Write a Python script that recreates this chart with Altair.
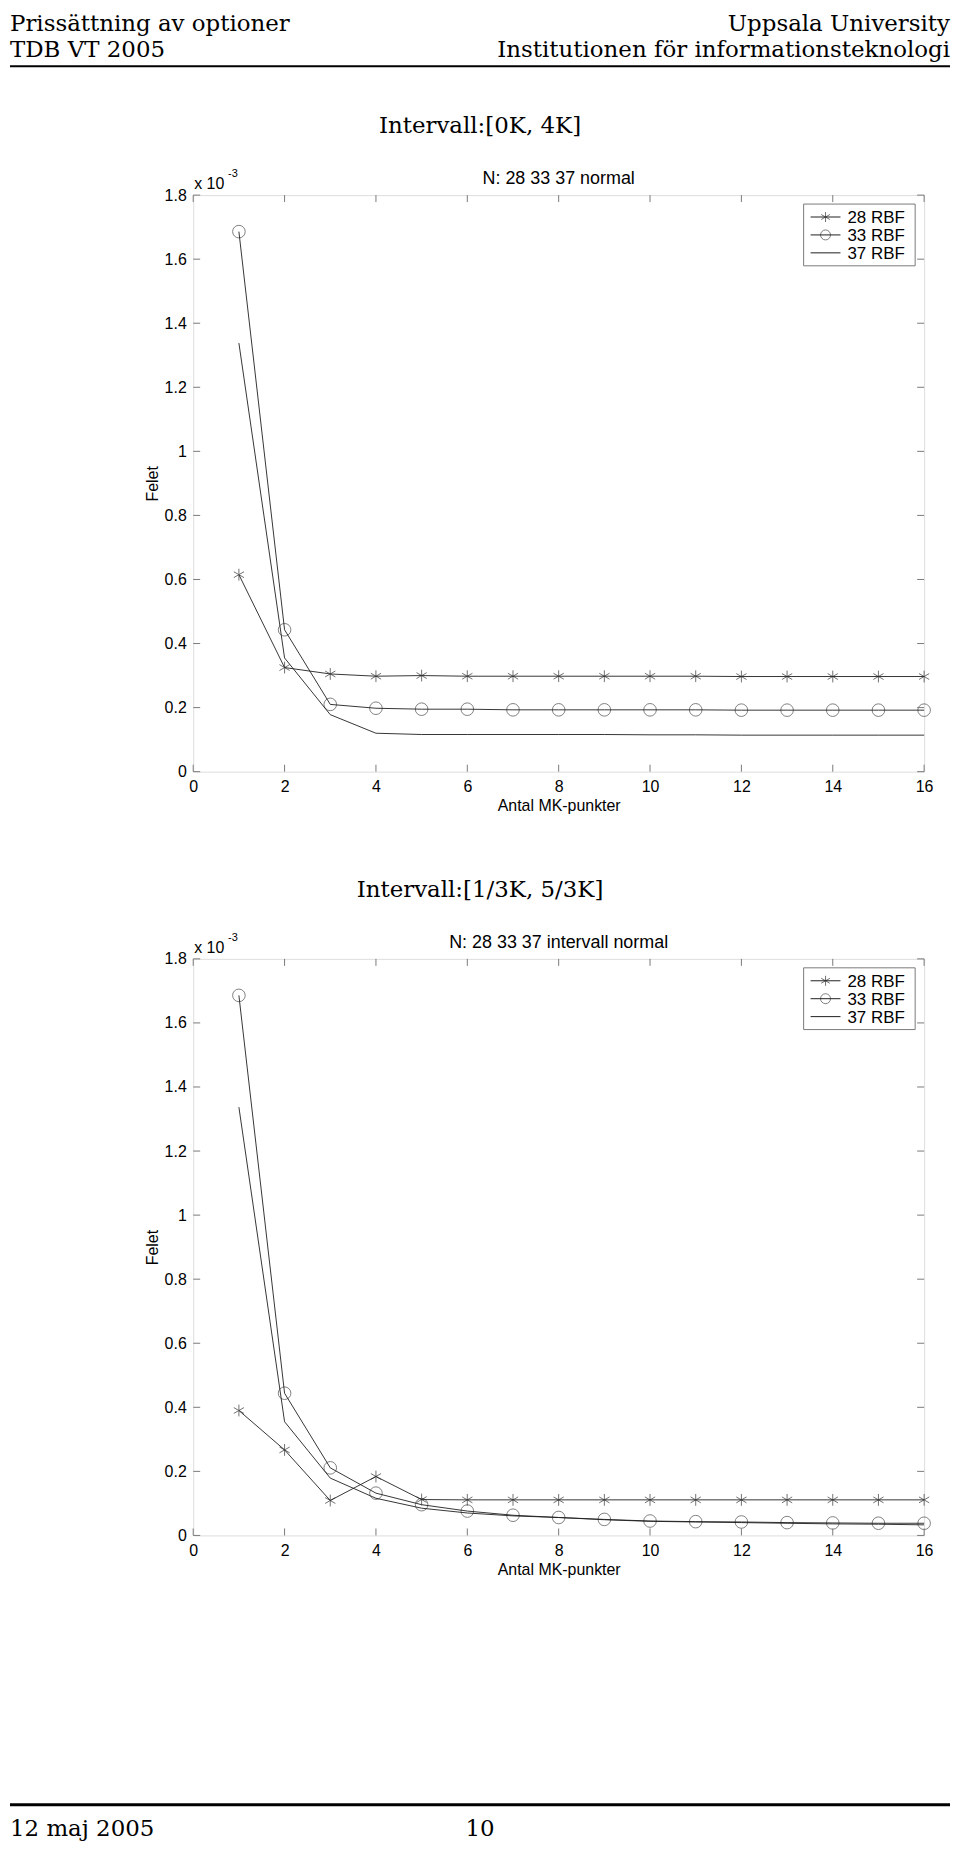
import altair as alt
import pandas as pd

# ---------------- data (values in units of 10^-3) ----------------
x_points = list(range(1, 17))
series_names = ["28 RBF", "33 RBF", "37 RBF"]

p1_28 = [0.615, 0.325, 0.305, 0.298, 0.300, 0.298, 0.298, 0.298, 0.298, 0.298, 0.298, 0.297, 0.297, 0.297, 0.297, 0.297]
p1_33 = [1.686, 0.443, 0.210, 0.198, 0.195, 0.195, 0.193, 0.193, 0.193, 0.193, 0.193, 0.192, 0.192, 0.192, 0.192, 0.192]
p1_37 = [1.338, 0.355, 0.178, 0.120, 0.116, 0.116, 0.116, 0.116, 0.116, 0.115, 0.115, 0.114, 0.114, 0.114, 0.114, 0.114]

p2_28 = [0.390, 0.267, 0.109, 0.184, 0.112, 0.111, 0.111, 0.111, 0.111, 0.111, 0.111, 0.111, 0.111, 0.111, 0.111, 0.111]
p2_33 = [1.686, 0.444, 0.211, 0.132, 0.096, 0.076, 0.063, 0.056, 0.050, 0.045, 0.043, 0.042, 0.040, 0.039, 0.038, 0.038]
p2_37 = [1.337, 0.355, 0.179, 0.116, 0.085, 0.070, 0.061, 0.056, 0.049, 0.044, 0.042, 0.040, 0.038, 0.036, 0.035, 0.033]

x_ticks = [0, 2, 4, 6, 8, 10, 12, 14, 16]
y_ticks = [0, 0.2, 0.4, 0.6, 0.8, 1.0, 1.2, 1.4, 1.6, 1.8]

header_left = ["Prissättning av optioner", "TDB VT 2005"]
header_right = ["Uppsala University", "Institutionen för informationsteknologi"]
section_titles = ["Intervall:[0K, 4K]", "Intervall:[1/3K, 5/3K]"]
plot_titles = ["N: 28 33 37 normal", "N: 28 33 37 intervall normal"]
footer_texts = ["12 maj 2005", "10"]
x_title = "Antal MK-punkter"
y_title = "Felet"
exp_base = "x 10"
exp_power = "-3"

# ---------------- styling ----------------
W, H = 734, 579
SERIF = "DejaVu Serif"
SANS = "Liberation Sans"
FRAME = "#7a7a7a"
LINE = "#1f1f1f"
ASTERISK = "M0,-1L0,1M-0.87,-0.5L0.87,0.5M-0.87,0.5L0.87,-0.5"

XS = alt.Scale(domain=[0, 16], nice=False, zero=False)
YS = alt.Scale(domain=[0, 1.8], nice=False, zero=False)
X_AX = alt.Axis(
    values=x_ticks, title=x_title, ticks=False, tickSize=0, domain=False, grid=False,
    labelFlush=False, labelOverlap=False,
    labelFont=SANS, labelFontSize=16, labelColor="black", labelPadding=7,
    titleFont=SANS, titleFontSize=16, titleFontWeight="normal", titleColor="black",
    titlePadding=3)
Y_AX = alt.Axis(
    values=y_ticks, format=".1~f", title=y_title, ticks=False, tickSize=0, domain=False,
    grid=False, labelFlush=False, labelOverlap=False,
    labelFont=SANS, labelFontSize=16, labelColor="black", labelPadding=7,
    titleFont=SANS, titleFontSize=16, titleFontWeight="normal", titleColor="black",
    titlePadding=4)


def X(field="x"):
    return alt.X(f"{field}:Q", scale=XS, axis=X_AX, title=x_title)


def Y(field="v"):
    return alt.Y(f"{field}:Q", scale=YS, axis=Y_AX, title=y_title)


def one(text):
    return pd.DataFrame({"t": [text]})


def text_layer(text, x, y, font=SANS, size=14, align="left", color="black"):
    return alt.Chart(one(text)).mark_text(
        align=align, baseline="alphabetic", font=font, fontSize=size, color=color
    ).encode(x=alt.value(x), y=alt.value(y), text="t:N")


def hrule(x1, x2, y, width=1.0, color="black"):
    return alt.Chart(one("r")).mark_rule(color=color, strokeWidth=width).encode(
        x=alt.value(x1), x2=alt.value(x2), y=alt.value(y)
    )


def panel(v28, v33, v37, section, ptitle, top_extra, bottom_extra):
    rows = []
    for name, vals in zip(series_names, [v28, v33, v37]):
        for xv, yv in zip(x_points, vals):
            rows.append({"x": xv, "v": yv, "s": name})
    df = pd.DataFrame(rows)

    lines = alt.Chart(df).mark_line(color=LINE, strokeWidth=0.9).encode(
        x=X(), y=Y(), detail="s:N")
    stars = alt.Chart(df).transform_filter(alt.datum.s == series_names[0]).mark_point(
        shape=ASTERISK, size=140, color=LINE, strokeWidth=0.9, filled=False
    ).encode(x=X(), y=Y())
    circles = alt.Chart(df).transform_filter(alt.datum.s == series_names[1]).mark_point(
        shape="circle", size=160, color=LINE, strokeWidth=0.8, filled=False
    ).encode(x=X(), y=Y())

    xt = pd.DataFrame({"x": x_ticks})
    yt = pd.DataFrame({"v": y_ticks})
    tick_style = dict(color=FRAME, strokeWidth=1)
    ticks = [
        alt.Chart(xt).mark_rule(**tick_style).encode(x=X(), y=alt.value(H), y2=alt.value(H - 7)),
        alt.Chart(xt).mark_rule(**tick_style).encode(x=X(), y=alt.value(0), y2=alt.value(7)),
        alt.Chart(yt).mark_rule(**tick_style).encode(y=Y(), x=alt.value(0), x2=alt.value(7)),
        alt.Chart(yt).mark_rule(**tick_style).encode(y=Y(), x=alt.value(W), x2=alt.value(W - 7)),
    ]

    # legend (manual, MATLAB style)
    legend = [
        alt.Chart(one("box")).mark_rect(fill="white", stroke=FRAME, strokeWidth=1).encode(
            x=alt.value(613), x2=alt.value(725), y=alt.value(9), y2=alt.value(71))
    ]
    row_y = [22, 40, 58]
    for i, name in enumerate(series_names):
        legend.append(alt.Chart(one(name)).mark_rule(color=LINE, strokeWidth=1).encode(
            x=alt.value(620), x2=alt.value(650), y=alt.value(row_y[i])))
        if i == 0:
            legend.append(alt.Chart(one(name)).mark_point(
                shape=ASTERISK, size=100, color=LINE, strokeWidth=0.9, filled=False
            ).encode(x=alt.value(635), y=alt.value(row_y[i])))
        elif i == 1:
            legend.append(alt.Chart(one(name)).mark_point(
                shape="circle", size=100, color=LINE, strokeWidth=0.8, filled=False
            ).encode(x=alt.value(635), y=alt.value(row_y[i])))
        legend.append(text_layer(name, 657, row_y[i] + 6, size=17))

    texts = [
        text_layer(section, 288, -62, font=SERIF, size=23, align="center"),
        text_layer(ptitle, W / 2, -11, size=18, align="center"),
        text_layer(exp_base, 1, -6, size=16),
        text_layer(exp_power, 35, -18, size=11),
    ]

    return alt.layer(lines, stars, circles, *ticks, *legend, *texts, *top_extra, *bottom_extra).properties(
        width=W, height=H
    )


top_items = [
    text_layer(header_left[0], -184, -165, font=SERIF, size=23),
    text_layer(header_left[1], -184, -139, font=SERIF, size=23),
    text_layer(header_right[0], 760, -165, font=SERIF, size=23, align="right"),
    text_layer(header_right[1], 760, -139, font=SERIF, size=23, align="right"),
    hrule(-184, 760, -129.5, width=2),
]
bottom_items = [
    hrule(-184, 760, 849.5, width=3),
    text_layer(footer_texts[0], -184, 881, font=SERIF, size=23),
    text_layer(footer_texts[1], 288, 881, font=SERIF, size=23, align="center"),
]

c1 = panel(p1_28, p1_33, p1_37, section_titles[0], plot_titles[0], top_items, [])
c2 = panel(p2_28, p2_33, p2_37, section_titles[1], plot_titles[1], [], bottom_items)

chart = alt.vconcat(c1, c2, spacing=64).properties(padding=0).configure_view(
    stroke=FRAME, strokeWidth=1
).configure(background="white")

chart.save("out.html", embed_options={"renderer": "svg", "actions": False})
